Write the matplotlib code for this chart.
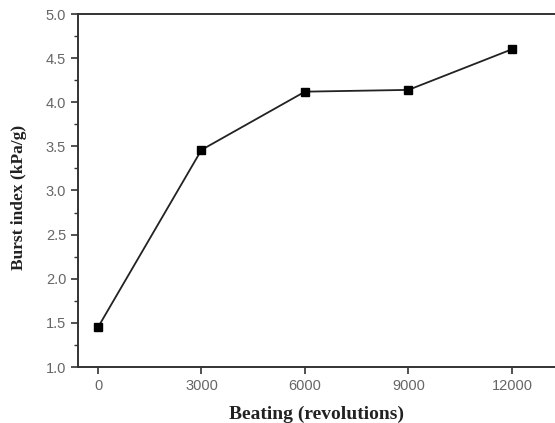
import matplotlib
matplotlib.use("Agg")
import matplotlib.pyplot as plt
from matplotlib.ticker import MultipleLocator

beating = [0, 3000, 6000, 9000, 12000]
burst = [1.45, 3.46, 4.12, 4.14, 4.60]
xticks = [0, 3000, 6000, 9000, 12000]
yticks = [1.0, 1.5, 2.0, 2.5, 3.0, 3.5, 4.0, 4.5, 5.0]

W, H = 555, 423
fig = plt.figure(figsize=(W/100, H/100), dpi=100)
ax = fig.add_axes([78/W, 1-367/H, (W-78)/W, (367-14)/H])
ax.plot(beating, burst, color="#222222", lw=1.3, marker="s", ms=6, mfc="black", mec="black")
ax.set_xlim(-580, 13250)
ax.set_ylim(1.0, 5.0)
ax.set_xticks(xticks)
ax.set_yticks(yticks)
ax.yaxis.set_minor_locator(MultipleLocator(0.25))
ax.spines["right"].set_visible(False)
for s in ["left", "bottom", "top"]:
    ax.spines[s].set_linewidth(1.4)
    ax.spines[s].set_color("#333333")
ax.tick_params(direction="out", length=5, width=1.2, colors="#333333", labelcolor="#666666", labelsize=10.5)
ax.tick_params(which="minor", direction="out", length=3, width=1.0, colors="#333333")
ax.set_xticklabels([str(v) for v in xticks], fontfamily="Liberation Sans")
ax.set_yticklabels([f"{v:.1f}" for v in yticks], fontfamily="Liberation Sans")
ax.set_xlabel("Beating (revolutions)", fontfamily="Liberation Serif", fontweight="bold", fontsize=14, color="#222222", labelpad=9)
ax.set_ylabel("Burst index (kPa/g)", fontfamily="Liberation Serif", fontweight="bold", fontsize=12.5, color="#222222")
ax.yaxis.set_label_coords(-0.107, 0.48)
fig.savefig("out.png", dpi=100)
